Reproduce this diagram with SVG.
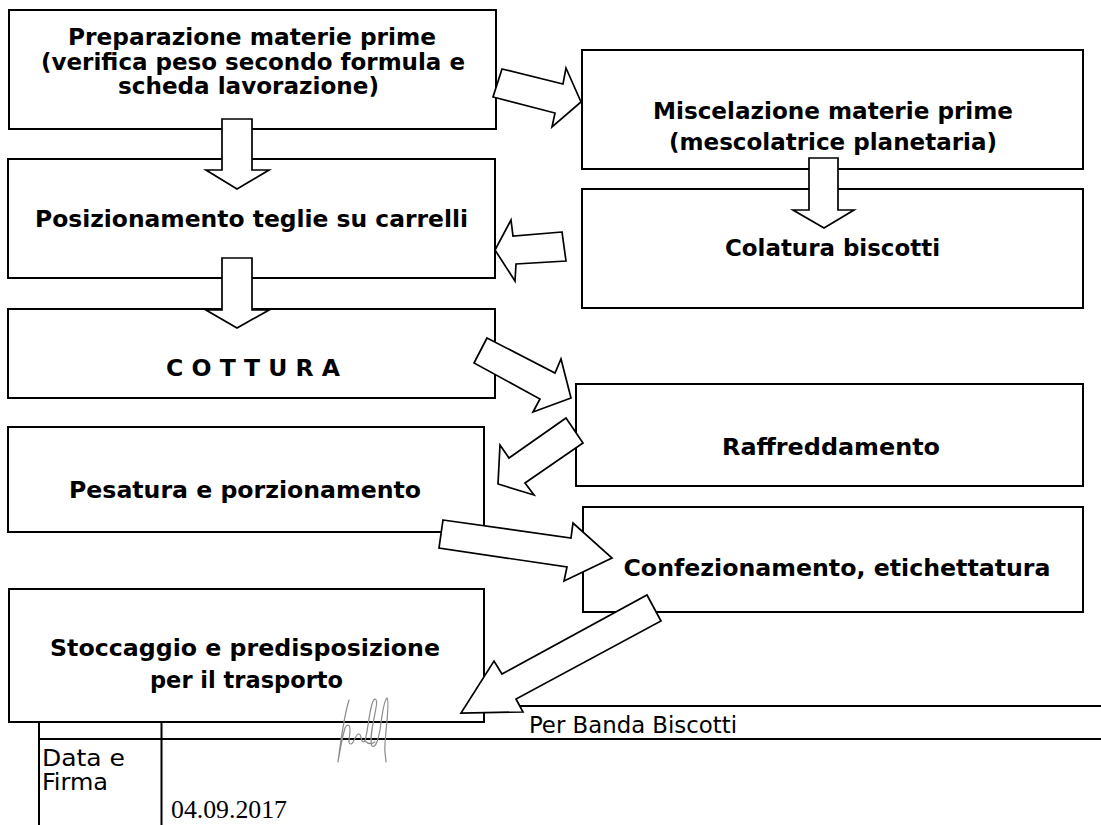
<svg xmlns="http://www.w3.org/2000/svg" width="1101" height="825" viewBox="0 0 1101 825">
<style>
.box{fill:#fff;stroke:#000;stroke-width:2}
.arr{fill:#fff;stroke:#000;stroke-width:1.7;stroke-linejoin:miter}
.lbl{font-family:"DejaVu Sans Condensed","DejaVu Sans",sans-serif;font-weight:bold;font-size:23px;fill:#000;text-anchor:middle}
.tbl{stroke:#000;stroke-width:2;fill:none}
.reg{font-family:"DejaVu Sans Condensed","DejaVu Sans",sans-serif;font-size:23px;fill:#000}
.ser{font-family:"Liberation Serif",serif;font-size:25px;fill:#000}
</style>
<rect width="1101" height="825" fill="#fff"/>
<g id="table">
<line class="tbl" x1="40" y1="706" x2="1101" y2="706"/>
<line class="tbl" x1="39" y1="739" x2="1101" y2="739"/>
<line class="tbl" x1="39" y1="720" x2="39" y2="825"/>
<line class="tbl" x1="161.5" y1="720" x2="161.5" y2="825"/>
<text class="reg" x="529" y="733" font-size="24" textLength="208" lengthAdjust="spacingAndGlyphs">Per Banda Biscotti</text>
<text class="reg" x="42" y="766" textLength="83" lengthAdjust="spacingAndGlyphs">Data e</text>
<text class="reg" x="42" y="790" textLength="66" lengthAdjust="spacingAndGlyphs">Firma</text>
<text class="ser" x="171" y="818" textLength="116" lengthAdjust="spacingAndGlyphs">04.09.2017</text>
</g>
<g id="n1"><rect class="box" x="9" y="10" width="487" height="119"/>
<text class="lbl" x="252" y="45" textLength="368" lengthAdjust="spacingAndGlyphs">Preparazione materie prime</text>
<text class="lbl" x="253" y="70" textLength="424" lengthAdjust="spacingAndGlyphs">(verifica peso secondo formula e</text>
<text class="lbl" x="248.5" y="94" textLength="261" lengthAdjust="spacingAndGlyphs">scheda lavorazione)</text></g>
<g id="n2"><rect class="box" x="582" y="50" width="501" height="119"/>
<text class="lbl" x="833" y="119" textLength="360" lengthAdjust="spacingAndGlyphs">Miscelazione materie prime</text>
<text class="lbl" x="833" y="150" textLength="328" lengthAdjust="spacingAndGlyphs">(mescolatrice planetaria)</text></g>
<g id="n3"><rect class="box" x="582" y="189" width="501" height="119"/>
<text class="lbl" x="832.5" y="256" textLength="215" lengthAdjust="spacingAndGlyphs">Colatura biscotti</text></g>
<g id="n4"><rect class="box" x="8" y="159" width="487" height="119"/>
<text class="lbl" x="251.5" y="227" textLength="433" lengthAdjust="spacingAndGlyphs">Posizionamento teglie su carrelli</text></g>
<g id="n5"><rect class="box" x="8" y="309" width="487" height="89"/>
<text class="lbl" x="253" y="376" textLength="174" lengthAdjust="spacingAndGlyphs">C O T T U R A</text></g>
<g id="n6"><rect class="box" x="576" y="384" width="507" height="102"/>
<text class="lbl" x="831" y="455" textLength="218" lengthAdjust="spacingAndGlyphs">Raffreddamento</text></g>
<g id="n7"><rect class="box" x="8" y="427" width="476" height="105"/>
<text class="lbl" x="245" y="498" textLength="352" lengthAdjust="spacingAndGlyphs">Pesatura e porzionamento</text></g>
<g id="n8"><rect class="box" x="583" y="507" width="500" height="105"/>
<text class="lbl" x="837" y="576" textLength="427" lengthAdjust="spacingAndGlyphs">Confezionamento, etichettatura</text></g>
<g id="n9"><rect class="box" x="9" y="589" width="475" height="133"/>
<text class="lbl" x="245" y="656" textLength="390" lengthAdjust="spacingAndGlyphs">Stoccaggio e predisposizione</text>
<text class="lbl" x="246.5" y="688" textLength="193" lengthAdjust="spacingAndGlyphs">per il trasporto</text></g>
<g id="signature" fill="none" stroke="#8c8c8c" stroke-width="1.2" stroke-linecap="round" stroke-linejoin="round">
<path d="M349,700 C346,710 341,738 338,762 C340,750 343,735 345,728 C347,724 350,724 350,730 C350,738 347,744 351,744 C354,744 355,734 359,734 C362,734 360,742 364,742 C367,740 368,718 372,704 C374,697 378,697 376,708 C373,724 369,740 372,746 C376,748 378,740 380,730 C382,714 384,700 387,698 C390,700 386,726 385,744 C384,752 386,758 386,762"/>
<path d="M365,741 C368,744 372,744 375,742"/>
</g>
<g id="connectors">
<polygon class="arr" points="502,69 563,84 566,68 581,102 552,127 555,113 493,97"/>
<polygon class="arr" points="222,119 252,119 252,170 269,170 237,189 206,170 222,170"/>
<polygon class="arr" points="222,258 252,258 252,310 269,310 237,328 206,310 222,310"/>
<polygon class="arr" points="809,158 838,158 838,210 854,210 824,228 793,210 809,210"/>
<polygon class="arr" points="562,232 513,236 511,220 495,250 515,281 516,264 566,261"/>
<polygon class="arr" points="487,338 555,373 561,359 571,398 533,412 540,399 474,363"/>
<polygon class="arr" points="566,418 583,443 525,483 534,495 498,484 500,445 509,458"/>
<polygon class="arr" points="443,520 571,538 573,523 612,558 564,581 567,567 439,548"/>
<polygon class="arr" points="647,595 661,621 516,699 523,712 461,713 494,661 502,674"/>
</g>
</svg>
